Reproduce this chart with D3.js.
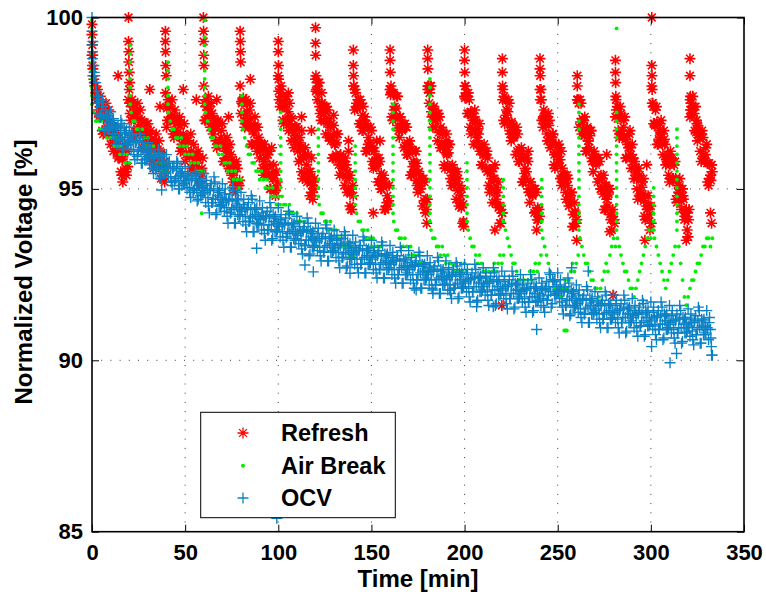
<!DOCTYPE html>
<html>
<head>
<meta charset="utf-8">
<script src="https://cdn.jsdelivr.net/npm/d3@7"></script>
<style>
  body { margin: 0; background: #ffffff; }
  text { font-family: "Liberation Sans", Arial, sans-serif; font-weight: bold; }
</style>
</head>
<body>
<script>
// readings come every 15-30 s: "_a" at t = i min, "_c" at i + 0.25, "_b" at i + 0.5
const sample_step = 1;

// Refresh, t = 0 .. 333
const refresh_a = [
  98.9, 98.2, 97.8, 97.9, 97.1, 97.4, 96.6, 97.3, 96.8, 97.3, 96.3, 96.5, 96.6, 96.7, 95.9, 96.2, 95.4, 96.1, 95.6, 96.1,
  97.9, 97.0, 97.4, 96.5, 97.3, 96.8, 97.3, 96.2, 96.6, 96.7, 96.9, 96.0, 96.4, 95.6, 96.4, 95.8, 96.4, 95.3, 95.7, 95.8,
  96.8, 97.6, 97.0, 97.6, 96.5, 96.9, 97.0, 97.1, 96.2, 96.6, 95.8, 96.5, 96.0, 96.6, 95.5, 95.8, 96.0, 96.1, 95.2, 95.6,
  98.0, 97.0, 97.3, 97.4, 97.5, 96.6, 97.0, 96.2, 96.9, 96.3, 96.9, 95.8, 96.1, 96.2, 96.3, 95.4, 95.7, 94.9, 95.6, 95.1,
  97.2, 97.6, 96.8, 97.5, 96.9, 97.5, 96.3, 96.6, 96.8, 96.8, 95.9, 96.3, 95.4, 96.1, 95.5, 96.1, 95.0, 95.3, 95.4, 95.5,
  98.3, 97.4, 97.7, 96.9, 97.6, 97.0, 97.5, 96.4, 96.7, 96.8, 96.8, 95.8, 96.2, 95.3, 96.0, 95.4, 96.0, 94.8, 95.1, 95.2,
  98.2, 97.6, 98.1, 97.0, 97.3, 97.4, 97.4, 96.5, 96.8, 95.9, 96.6, 96.0, 96.6, 95.4, 95.7, 95.8, 95.9, 94.9, 95.3, 94.4, 95.1,
  97.3, 97.5, 97.6, 97.6, 96.7, 97.0, 96.1, 96.8, 96.2, 96.7, 95.6, 95.8, 95.9, 95.9, 95.0, 95.3, 94.4, 95.1, 94.5,
  97.9, 97.1, 97.8, 97.1, 97.7, 96.5, 96.8, 96.9, 96.9, 96.0, 96.3, 95.4, 96.1, 95.5, 96.1, 94.9, 95.2, 95.3, 95.3, 94.3, 94.7,
  97.5, 98.0, 96.8, 97.1, 97.2, 97.2, 96.2, 96.6, 95.7, 96.4, 95.7, 96.3, 95.1, 95.4, 95.5, 95.5, 94.5, 94.8, 94.0,
  97.7, 97.8, 97.8, 96.8, 97.2, 96.3, 97.0, 96.4, 96.9, 95.7, 96.0, 96.1, 96.1, 95.1, 95.5, 94.6, 95.3, 94.7, 95.2, 94.0, 94.3,
  97.0, 97.6, 97.0, 97.5, 96.4, 96.6, 96.7, 96.8, 95.8, 96.1, 95.2, 95.9, 95.3, 95.8, 94.6, 94.9, 95.0, 95.0, 94.1, 94.4,
  97.9, 96.8, 97.1, 97.1, 97.2, 96.2, 96.5, 95.7, 96.3, 95.7, 96.2, 95.1, 95.3, 95.4, 95.4, 94.5, 94.8, 93.9, 94.6, 94.0,
  97.6, 97.6, 96.6, 97.0, 96.1, 96.8, 96.2, 96.7, 95.5, 95.8, 95.9, 95.9, 95.0, 95.3, 94.4, 95.1, 94.5, 95.0, 93.8, 94.1,
  97.1, 97.4, 96.5, 97.2, 96.5, 97.1, 95.9, 96.2, 96.2, 96.3, 95.3, 95.6, 94.7, 95.4, 94.8, 95.3, 94.1, 94.4, 94.5, 94.5,
  97.5, 96.9, 97.4, 96.3, 96.5, 96.6, 96.7, 95.7, 96.0, 95.2, 95.9, 95.3, 95.8, 94.6, 94.9, 95.0, 95.0, 94.1, 94.4, 93.6,
  97.1, 97.3, 97.4, 97.4, 96.4, 96.7, 95.8, 96.5, 95.8, 96.3, 95.1, 95.4, 95.5
];

// Refresh, t = 0.25 .. 332.25
const refresh_c = [
  98.6, 98.1, 97.7, 97.6, 97.15, 97.45, 97.05, 97.25, 96.7, 96.85,
  96.7, 96.7, 96.25, 96.4, 95.95, 96.25, 95.85, 96.05, 95.5, 95.65,
  97.5, 97.5, 97.05, 97.2, 96.75, 97.05, 96.75, 96.95, 96.4, 96.55,
  96.5, 96.6, 96.15, 96.3, 95.85, 96.15, 95.85, 96.05, 95.5, 95.65,
  97.35, 97.45, 97.0, 97.15, 96.7, 97.0, 96.65, 96.85, 96.3, 96.45,
  96.3, 96.4, 95.95, 96.1, 95.65, 95.95, 95.65, 95.85, 95.3, 95.45,
  97.5, 97.6, 97.15, 97.25, 96.8, 97.05, 96.75, 96.95, 96.35, 96.5,
  96.3, 96.4, 95.9, 96.05, 95.55, 95.85, 95.5, 95.7, 95.1, 95.25,
  97.55, 97.65, 97.15, 97.25, 96.8, 97.05, 96.7, 96.85, 96.3, 96.4,
  96.2, 96.3, 95.8, 95.9, 95.4, 95.7, 95.35, 95.5, 94.95, 95.05,
  97.85, 97.9, 97.4, 97.5, 97.0, 97.25, 96.9, 97.05, 96.45, 96.55,
  96.3, 96.35, 95.85, 95.95, 95.45, 95.7, 95.35, 95.5, 94.9, 95.0,
  97.85, 97.9, 97.4, 97.5, 97.0, 97.25, 96.9, 97.05, 96.4, 96.5,
  96.3, 96.35, 95.85, 95.95, 95.45, 95.7, 95.35, 95.5, 94.9, 95.0,
  94.8, 97.9, 97.35, 97.45, 96.9, 97.15, 96.8, 96.9, 96.3, 96.35,
  96.15, 96.2, 95.65, 95.75, 95.2, 95.45, 95.1, 95.2, 94.6, 94.65,
  97.75, 97.8, 97.3, 97.35, 96.85, 97.1, 96.75, 96.85, 96.25, 96.35,
  96.15, 96.15, 95.65, 95.75, 95.25, 95.45, 95.1, 95.25, 94.65, 94.7,
  97.9, 97.8, 97.25, 97.35, 96.8, 97.05, 96.65, 96.8, 96.2, 96.25,
  96.05, 96.05, 95.55, 95.6, 95.1, 95.35, 94.95, 95.1, 94.45, 94.55,
  97.65, 97.7, 97.2, 97.25, 96.75, 97.0, 96.6, 96.75, 96.1, 96.2,
  96.0, 96.0, 95.5, 95.55, 95.05, 95.3, 94.9, 95.05, 94.45, 94.5,
  94.3, 97.7, 97.15, 97.25, 96.7, 96.95, 96.55, 96.7, 96.1, 96.15,
  95.95, 95.95, 95.45, 95.5, 95.0, 95.2, 94.85, 95.0, 94.35, 94.45,
  94.2, 97.6, 97.05, 97.15, 96.6, 96.85, 96.45, 96.6, 96.0, 96.05,
  95.85, 95.85, 95.35, 95.4, 94.9, 95.1, 94.75, 94.9, 94.25, 94.35,
  94.1, 97.5, 96.95, 97.05, 96.55, 96.75, 96.4, 96.55, 95.9, 96.0,
  95.8, 95.8, 95.3, 95.4, 94.85, 95.1, 94.7, 94.85, 94.25, 94.3,
  94.1, 97.6, 97.05, 97.1, 96.6, 96.8, 96.45, 96.55, 95.95, 96.0,
  95.8, 95.8, 95.3, 95.35, 94.85, 95.05, 94.65, 94.8, 94.15, 94.25,
  94.0, 97.4, 96.85, 96.95, 96.45, 96.65, 96.3, 96.45, 95.85, 95.9,
  95.7, 95.75, 95.25, 95.3, 94.8, 95.05, 94.65, 94.8, 94.2, 94.3,
  94.1, 97.7, 97.15, 97.2, 96.65, 96.85, 96.5, 96.6, 95.95, 96.0,
  95.75, 95.75, 95.25
];

// Refresh, t = 0.5 .. 332.5
const refresh_b = [
  98.5, 98.0, 97.6, 97.3, 97.7, 96.7, 97.1, 97.5, 96.6, 97.0, 96.6, 96.1, 96.8, 96.1, 96.5, 95.5, 95.9, 96.3, 95.4, 97.6,
  97.2, 97.6, 96.7, 97.1, 97.5, 96.6, 97.0, 96.6, 96.2, 96.9, 96.3, 96.7, 95.8, 96.2, 96.6, 95.7, 96.1, 95.7, 95.3, 97.8,
  97.0, 97.4, 97.1, 96.6, 97.3, 96.6, 97.0, 96.1, 96.5, 96.9, 96.0, 96.4, 96.0, 95.6, 96.3, 95.6, 96.0, 95.1, 95.5, 95.9,
  97.0, 97.4, 97.7, 96.8, 97.2, 96.8, 96.4, 97.0, 96.3, 96.7, 95.8, 96.2, 96.5, 95.6, 96.0, 95.6, 95.1, 95.8, 95.1, 98.0,
  97.5, 97.0, 97.6, 96.9, 97.3, 96.3, 96.8, 97.1, 96.1, 96.5, 96.1, 95.6, 96.3, 95.6, 96.0, 95.0, 95.4, 95.7, 94.8, 95.2,
  97.6, 98.0, 97.0, 97.4, 97.7, 96.7, 97.1, 96.7, 96.2, 96.8, 96.1, 96.5, 95.5, 95.9, 96.2, 95.2, 95.5, 95.2, 94.7, 95.3,
  97.9, 98.1, 97.2, 97.5, 97.2, 96.6, 97.3, 96.5, 96.9, 95.9, 96.3, 96.6, 95.7, 96.0, 95.6, 95.1, 95.7, 95.0, 95.4, 94.4, 98.0,
  97.8, 97.4, 96.9, 97.5, 96.7, 97.1, 96.1, 96.5, 96.8, 95.8, 96.1, 95.7, 95.2, 95.8, 95.0, 95.4, 94.4, 94.8, 95.1,
  98.0, 97.0, 97.4, 97.7, 96.7, 97.1, 96.7, 96.2, 96.8, 96.0, 96.4, 95.4, 95.8, 96.1, 95.1, 95.5, 95.0, 94.5, 95.2, 94.4, 98.0,
  98.0, 97.1, 97.4, 97.0, 96.4, 97.1, 96.3, 96.7, 95.6, 96.0, 96.3, 95.3, 95.7, 95.2, 94.7, 95.3, 94.6, 95.0, 93.9,
  98.0, 97.2, 97.6, 96.6, 97.0, 97.3, 96.3, 96.6, 96.2, 95.7, 96.3, 95.6, 95.9, 94.9, 95.3, 95.6, 94.6, 94.9, 94.5, 94.0, 97.9,
  96.9, 97.3, 97.6, 96.6, 96.9, 96.5, 96.0, 96.6, 95.8, 96.2, 95.2, 95.6, 95.9, 94.9, 95.2, 94.8, 94.3, 94.9, 94.1, 97.9,
  97.0, 97.3, 96.9, 96.4, 97.0, 96.3, 96.6, 95.6, 96.0, 96.3, 95.3, 95.6, 95.2, 94.7, 95.3, 94.6, 94.9, 93.9, 94.3, 97.6,
  96.8, 97.5, 96.7, 97.1, 96.1, 96.4, 96.7, 95.8, 96.1, 95.7, 95.2, 95.8, 95.0, 95.4, 94.4, 94.8, 95.0, 94.1, 94.4, 94.0,
  97.3, 96.7, 97.4, 96.6, 97.0, 95.9, 96.3, 96.6, 95.6, 95.9, 95.5, 95.0, 95.6, 94.8, 95.2, 94.2, 94.5, 94.8, 93.8, 98.0,
  96.9, 97.3, 96.3, 96.7, 97.0, 96.0, 96.3, 95.9, 95.4, 96.1, 95.3, 95.7, 94.7, 95.1, 95.3, 94.4, 94.7, 94.3, 93.8, 94.4,
  97.5, 97.7, 96.7, 97.0, 96.6, 96.1, 96.7, 95.9, 96.2, 95.2, 95.3, 95.7
];

// Refresh: readings right after each refresh and stray readings, [t, value]
const refresh_extra = [
  [0, 99.8], [0, 99.5], [0.2, 99.2], [0.4, 98.9], [14, 98.3], [16.5, 95.2],
  [19.6, 100.0], [19.6, 99.3], [19.8, 99.0], [19.8, 98.7], [20, 98.4], [20.2, 98.1], [31, 97.9], [36.5, 97.4],
  [39.4, 99.6], [39.4, 99.3], [39.5, 99.0], [39.6, 98.6], [39.8, 98.3], [49, 97.9], [56, 97.6], [39, 95.2],
  [59.8, 100.0], [59.9, 99.6], [59.9, 99.3], [60, 98.9], [60.1, 98.6], [67, 97.6], [73.3, 97.1], [75.7, 95.2],
  [79.5, 99.6], [79.6, 99.3], [79.7, 99.0], [79.8, 98.7], [85, 98.2], [96.4, 96.2],
  [100, 99.3], [100, 99.0], [100.1, 98.6], [100.2, 98.2], [105.4, 97.8], [112.5, 97.1], [112.5, 96.7], [117.8, 96.7], [117.8, 95.9],
  [120, 99.7], [120, 99.25], [120.1, 98.9], [120.2, 98.3], [123.3, 97.8], [129.7, 97.15], [129.7, 96.85], [137.7, 96.4], [137.7, 96.1], [138.5, 94.5],
  [140.3, 99.05], [140.3, 98.6], [140.4, 98.3], [140.5, 98.0], [145.6, 97.4], [152.8, 96.4], [151, 94.3],
  [160, 99.05], [160, 98.75], [160.1, 98.4], [160.2, 97.9], [168.9, 96.8], [154.6, 96.4], [174.4, 95.75], [179.7, 94.0],
  [180.2, 99.05], [180.2, 98.8], [180.3, 98.5], [180.4, 98.0], [190.4, 96.6], [190.4, 96.3], [199.4, 94.05],
  [200, 99.05], [200, 98.75], [200.1, 98.4], [200.2, 98.0], [204.8, 97.1], [216.3, 95.7], [216.3, 93.8],
  [220.3, 98.8], [220.3, 98.4], [220.4, 98.0], [220.5, 97.6], [226.1, 96.8], [234.2, 96.1], [220, 91.6], [238.7, 93.8],
  [240.5, 98.8], [240.5, 98.5], [240.6, 98.3], [240.7, 97.6], [245.8, 96.4], [252, 96.1], [260.2, 93.5],
  [260.5, 98.3], [260.5, 98.0], [260.6, 97.6], [276.3, 96.0], [278, 93.75], [279.7, 91.9],
  [281, 98.75], [281, 98.4], [281.1, 98.1], [281.2, 97.7], [288.8, 96.7], [296.8, 93.5],
  [300.5, 100.0], [300.5, 98.6], [300.6, 98.3], [300.7, 97.9], [300.8, 97.5], [305, 96.9], [297.8, 95.7], [311.2, 95.9], [319, 93.5],
  [321, 98.8], [321, 98.3], [321.1, 97.6], [321.2, 97.3], [324.7, 96.9], [332.6, 95.7], [332, 94.3], [332.6, 94.0]
];

// Air Break, t = 0 .. 333
const air_break = [
  99.92, 97.23, 96.98, 96.98, 96.74, 96.98, 96.74, 96.74, 96.49, 96.74, 96.49, 96.49, 96.25, 96.49, 96.25, 96.01, 96.25, 96.01, 95.76, 96.01, 95.76,
  97.23, 96.98, 96.98, 96.74, 96.74, 96.49, 96.74, 96.49, 96.25, 96.49, 96.25, 96.01, 96.25, 96.01, 95.76, 96.01, 95.76, 95.52, 95.76, 95.52,
  97.23, 96.98, 96.74, 96.74, 96.49, 96.49, 96.25, 96.49, 96.25, 96.01, 96.25, 96.01, 95.76, 96.01, 95.76, 95.52, 95.76, 95.52, 95.27, 95.52,
  97.23, 96.98, 96.74, 96.49, 96.49, 96.25, 96.25, 96.01, 96.25, 96.01, 95.76, 95.76, 95.52, 95.76, 95.52, 95.27, 95.52, 95.27, 95.03, 95.27,
  96.74, 96.49, 96.25, 96.01, 96.01, 95.76, 95.76, 95.52, 95.52, 95.27, 95.52, 95.27, 95.03, 95.27, 95.03, 94.78, 95.03, 94.78, 94.54, 94.78, 94.54,
  94.78, 94.54, 94.54, 94.29, 94.54, 94.29, 94.29, 94.05, 94.29, 94.05, 94.05, 93.80, 94.05, 93.80, 93.80, 93.56, 93.80, 93.56, 93.56, 93.32,
  94.54, 94.29, 94.29, 94.05, 94.05, 93.80, 94.05, 93.80, 93.56, 93.80, 93.56, 93.56, 93.32, 93.56, 93.32, 93.32, 93.07, 93.32, 93.07, 93.07,
  94.29, 94.05, 94.05, 93.80, 93.80, 93.56, 93.80, 93.56, 93.32, 93.56, 93.32, 93.32, 93.07, 93.32, 93.07, 93.07, 92.83, 93.07, 92.83, 92.83,
  94.05, 93.80, 93.80, 93.56, 93.56, 93.32, 93.56, 93.32, 93.07, 93.32, 93.07, 93.07, 92.83, 93.07, 92.83, 92.83, 92.59, 92.83, 92.59, 92.83,
  93.80, 93.56, 93.56, 93.32, 93.32, 93.07, 93.32, 93.07, 92.83, 93.07, 92.83, 92.83, 92.59, 92.83, 92.59, 92.59, 92.83, 92.59, 92.83, 92.59,
  93.80, 93.56, 93.32, 93.32, 93.07, 92.83, 93.07, 92.83, 92.59, 92.59, 92.34, 92.59, 92.34, 92.59, 92.83, 92.59, 92.83, 93.07, 92.83, 93.07,
  93.80, 93.56, 93.32, 93.07, 92.83, 92.83, 92.59, 92.34, 92.34, 92.10, 92.34, 92.10, 92.34, 92.59, 92.34, 92.59, 92.83, 92.59, 92.83, 93.07,
  93.56, 93.32, 93.07, 92.83, 92.59, 92.34, 92.34, 92.10, 91.85, 92.10, 91.85, 92.10, 92.34, 92.10, 92.34, 92.59, 92.83, 92.59, 92.83, 93.07,
  93.56, 93.32, 93.07, 92.83, 92.83, 92.59, 92.34, 92.34, 92.10, 92.10, 91.85, 92.10, 92.34, 92.59, 92.83, 92.59, 93.07, 93.32, 93.56, 93.32,
  93.56, 93.32, 93.07, 92.83, 92.59, 92.59, 92.34, 92.10, 92.10, 91.85, 92.10, 92.34, 92.59, 92.83, 93.07, 93.32, 93.56, 93.80, 93.56, 93.80,
  93.56, 93.32, 93.07, 92.83, 92.59, 92.34, 92.10, 92.34, 92.59, 92.83, 93.07, 93.32,
  93.80, 93.32, 92.83, 92.34, 91.85, 91.61, 91.85, 92.10, 92.34, 92.34, 92.59, 92.83, 92.83, 93.07, 93.32, 93.32, 93.56, 93.56, 93.32, 93.56
];

// Air Break: fast drops at each cycle, [t, readings passed on the way down]
const air_columns = [
  [0, [99.92, 99.68, 99.43, 99.19, 98.94, 98.70, 98.45, 98.21, 97.96, 97.72, 97.47]],
  [20.5, [99.19, 98.94, 98.70, 98.45, 98.21, 97.96, 97.72, 97.47]],
  [40.8, [98.70, 98.45, 98.21, 97.96, 97.72, 97.47]],
  [60.5, [99.92, 99.43, 99.19, 98.94, 98.70, 98.45, 98.21, 97.96, 97.72, 97.47]],
  [80.5, [97.72, 97.47, 97.23, 96.98]],
  [101.3, [97.23, 96.98, 96.74, 96.49, 96.25, 96.01, 95.76, 95.52, 95.27, 95.03]],
  [121.5, [96.74, 96.49, 96.25, 96.01, 95.76, 95.52, 95.27, 95.03, 94.78]],
  [141.3, [96.25, 96.01, 95.76, 95.52, 95.27, 95.03, 94.78, 94.54]],
  [161.6, [97.47, 97.23, 96.98, 96.74, 96.49, 96.25, 96.01, 95.76, 95.52, 95.27, 95.03, 94.78, 94.54, 94.29]],
  [181.4, [98.21, 97.96, 97.72, 97.47, 97.23, 96.98, 96.74, 96.49, 96.25, 96.01, 95.76, 95.52, 95.27, 95.03, 94.78, 94.54, 94.29, 94.05]],
  [201.3, [95.76, 95.52, 95.27, 95.03, 94.78, 94.54, 94.29, 94.05]],
  [220.8, [95.27, 95.03, 94.78, 94.54, 94.29, 94.05]],
  [241.4, [95.27, 95.03, 94.78, 94.54, 94.29, 94.05, 93.80]],
  [261.4, [97.47, 97.23, 96.98, 96.74, 96.49, 96.25, 96.01, 95.76, 95.52, 95.27, 95.03, 94.78, 94.54, 94.29, 94.05, 93.80]],
  [281.6, [99.68, 97.23, 96.98, 96.74, 96.49, 96.25, 96.01, 95.76, 95.52, 95.27, 95.03, 94.78, 94.54, 94.29, 94.05, 93.80]],
  [301.5, [95.03, 94.78, 94.54, 94.29, 94.05, 93.80]],
  [314, [96.74, 96.49, 96.25, 96.01, 95.76, 95.52, 95.27, 95.03, 94.78, 94.54, 94.29, 94.05]]
];

const air_extra = [[58.9, 94.29], [253.5, 90.87], [254.2, 90.87], [254.9, 90.87]];

// OCV, t = 0 .. 333
const ocv_a = [
  100.0, 98.6, 98.1, 97.2, 97.6, 97.15, 97.5, 96.7, 97.1, 96.75,
  97.25, 96.6, 96.85, 96.3, 96.85, 96.5, 96.9, 96.2, 96.65, 96.3,
  96.8, 96.15, 96.4, 95.85, 96.4, 96.1, 96.5, 95.75, 96.2, 95.85,
  96.35, 95.7, 96.0, 95.45, 96.0, 95.65, 96.05, 95.35, 95.8, 95.45,
  96.0, 95.35, 95.6, 95.1, 95.65, 95.3, 95.75, 95.0, 95.45, 95.15,
  95.65, 95.0, 95.3, 94.75, 95.35, 95.0, 95.4, 94.7, 95.15, 94.85,
  95.45, 94.6, 95.0, 94.3, 95.15, 94.7, 95.2, 94.3, 94.9, 94.5,
  95.15, 94.35, 94.7, 94.0, 94.85, 94.4, 94.95, 94.0, 94.65, 94.2,
  94.9, 94.05, 94.45, 93.75, 94.6, 94.15, 94.7, 93.75, 94.4, 93.95,
  94.65, 93.8, 94.2, 93.5, 94.35, 93.95, 94.45, 93.55, 94.15, 93.75,
  94.45, 93.6, 94.0, 93.3, 94.15, 93.7, 94.25, 93.3, 93.95, 93.5,
  94.2, 93.4, 93.75, 93.1, 93.9, 93.5, 94.0, 93.1, 93.7, 93.3,
  94.0, 93.2, 93.55, 92.9, 93.7, 93.3, 93.85, 92.9, 93.55, 93.15,
  93.8, 93.0, 93.4, 92.7, 93.55, 93.1, 93.65, 92.75, 93.35, 92.95,
  93.65, 92.8, 93.2, 92.55, 93.35, 92.95, 93.5, 92.55, 93.2, 92.8,
  93.5, 92.65, 93.05, 92.4, 93.2, 92.8, 93.35, 92.4, 93.05, 92.65,
  93.35, 92.5, 92.9, 92.25, 93.05, 92.65, 93.2, 92.25, 92.9, 92.5,
  93.2, 92.35, 92.75, 92.1, 92.9, 92.5, 93.05, 92.1, 92.75, 92.35,
  93.05, 92.2, 92.6, 91.95, 92.75, 92.35, 92.9, 91.95, 92.6, 92.2,
  92.9, 92.05, 92.45, 91.8, 92.65, 92.2, 92.75, 91.85, 92.5, 92.1,
  92.8, 92.0, 92.35, 91.7, 92.55, 92.15, 92.65, 91.75, 92.4, 92.0,
  92.7, 91.9, 92.25, 91.6, 92.45, 92.05, 92.55, 91.65, 92.3, 91.9,
  92.6, 91.8, 92.15, 91.5, 92.35, 91.95, 92.45, 91.55, 92.2, 91.8,
  92.5, 91.7, 92.05, 91.4, 92.25, 91.85, 92.35, 91.45, 92.1, 91.7,
  92.4, 91.6, 92.05, 91.4, 92.3, 91.9, 92.5, 91.65, 92.3, 91.9,
  92.55, 91.7, 92.05, 91.35, 92.15, 91.75, 92.25, 91.35, 91.95, 91.55,
  92.2, 91.4, 91.75, 91.1, 91.9, 91.5, 92.05, 91.1, 91.75, 91.35,
  92.0, 91.2, 91.6, 90.95, 91.75, 91.35, 91.9, 90.95, 91.6, 91.2,
  91.9, 91.1, 91.45, 90.8, 91.65, 91.25, 91.75, 90.85, 91.5, 91.1,
  91.8, 90.95, 91.35, 90.7, 91.55, 91.1, 91.65, 90.75, 91.4, 91.0,
  91.7, 90.9, 91.25, 90.6, 91.45, 91.05, 91.55, 90.65, 91.3, 90.9,
  91.6, 90.8, 91.15, 90.5, 91.35, 90.95, 91.45, 90.55, 91.2, 90.8,
  91.5, 90.7, 91.1, 90.45, 91.3, 90.9, 91.45, 90.5, 91.15, 90.75,
  91.45, 90.6, 90.9, 90.15
];

// OCV, t = 0.25 .. 332.25
const ocv_c = [
  99.0, 98.4, 97.85, 97.7, 97.15, 97.4, 97.1, 97.3, 96.75, 96.95,
  96.85, 97.0, 96.6, 96.8, 96.4, 96.75, 96.5, 96.8, 96.3, 96.5,
  96.4, 96.55, 96.15, 96.35, 95.95, 96.35, 96.1, 96.35, 95.85, 96.05,
  95.95, 96.1, 95.75, 95.95, 95.55, 95.9, 95.65, 95.95, 95.45, 95.65,
  95.6, 95.75, 95.35, 95.6, 95.2, 95.55, 95.35, 95.6, 95.1, 95.35,
  95.25, 95.4, 95.05, 95.25, 94.9, 95.25, 95.0, 95.3, 94.8, 95.05,
  94.95, 95.1, 94.75, 94.95, 94.6, 94.95, 94.7, 95.0, 94.5, 94.75,
  94.65, 94.85, 94.45, 94.65, 94.3, 94.65, 94.45, 94.7, 94.25, 94.45,
  94.4, 94.55, 94.2, 94.4, 94.05, 94.4, 94.2, 94.45, 94.0, 94.2,
  94.15, 94.3, 93.95, 94.15, 93.8, 94.2, 93.95, 94.25, 93.75, 94.0,
  93.95, 94.1, 93.75, 93.95, 93.6, 93.95, 93.75, 94.0, 93.55, 93.75,
  93.7, 93.9, 93.5, 93.75, 93.35, 93.75, 93.5, 93.8, 93.3, 93.55,
  93.5, 93.7, 93.3, 93.55, 93.15, 93.55, 93.35, 93.6, 93.15, 93.4,
  93.3, 93.5, 93.15, 93.35, 93.0, 93.35, 93.15, 93.45, 92.95, 93.2,
  93.15, 93.3, 92.95, 93.2, 92.8, 93.2, 93.0, 93.25, 92.8, 93.05,
  93.0, 93.15, 92.8, 93.05, 92.65, 93.05, 92.85, 93.1, 92.65, 92.9,
  92.85, 93.0, 92.65, 92.9, 92.5, 92.9, 92.7, 92.95, 92.5, 92.75,
  92.7, 92.85, 92.5, 92.75, 92.35, 92.75, 92.55, 92.8, 92.35, 92.6,
  92.55, 92.7, 92.35, 92.6, 92.2, 92.6, 92.4, 92.65, 92.2, 92.45,
  92.4, 92.55, 92.2, 92.45, 92.1, 92.45, 92.25, 92.55, 92.1, 92.35,
  92.3, 92.5, 92.1, 92.35, 92.0, 92.4, 92.15, 92.45, 92.0, 92.25,
  92.2, 92.4, 92.0, 92.25, 91.9, 92.3, 92.05, 92.35, 91.9, 92.15,
  92.1, 92.3, 91.9, 92.15, 91.8, 92.2, 91.95, 92.25, 91.8, 92.05,
  92.0, 92.2, 91.8, 92.05, 91.7, 92.1, 91.85, 92.15, 91.7, 91.95,
  91.9, 92.1, 91.8, 92.05, 91.75, 92.15, 92.0, 92.35, 91.9, 92.15,
  92.05, 92.2, 91.8, 92.0, 91.6, 92.0, 91.75, 92.05, 91.55, 91.8,
  91.7, 91.9, 91.5, 91.75, 91.35, 91.75, 91.55, 91.8, 91.35, 91.6,
  91.5, 91.7, 91.35, 91.6, 91.2, 91.6, 91.4, 91.65, 91.2, 91.45,
  91.4, 91.6, 91.2, 91.45, 91.1, 91.5, 91.25, 91.55, 91.1, 91.35,
  91.3, 91.45, 91.1, 91.35, 91.0, 91.35, 91.15, 91.45, 91.0, 91.25,
  91.2, 91.4, 91.0, 91.25, 90.9, 91.3, 91.05, 91.35, 90.9, 91.15,
  91.1, 91.3, 90.9, 91.15, 90.8, 91.2, 90.95, 91.25, 90.8, 91.05,
  91.0, 91.2, 90.85, 91.1, 90.75, 91.15, 90.95, 91.2, 90.75, 91.0,
  90.95, 91.1, 90.65
];

// OCV, t = 0.5 .. 332.5
const ocv_b = [
  99.3, 98.3, 97.5, 97.6, 97.1, 97.6, 96.7, 97.05, 97.15, 96.8,
  96.85, 97.05, 96.45, 96.8, 96.45, 97.0, 96.15, 96.6, 96.7, 96.35,
  96.4, 96.6, 96.0, 96.35, 96.0, 96.6, 95.75, 96.15, 96.25, 95.9,
  95.95, 96.15, 95.6, 95.95, 95.6, 96.15, 95.3, 95.75, 95.85, 95.5,
  95.6, 95.8, 95.2, 95.6, 95.25, 95.8, 95.0, 95.4, 95.5, 95.2,
  95.25, 95.45, 94.9, 95.25, 94.95, 95.5, 94.65, 95.1, 95.2, 94.9,
  94.9, 95.25, 94.5, 95.0, 94.6, 95.35, 94.25, 94.8, 94.95, 94.55,
  94.6, 95.0, 94.2, 94.7, 94.3, 95.05, 94.0, 94.5, 94.7, 94.25,
  94.35, 94.7, 93.95, 94.45, 94.05, 94.8, 93.75, 94.25, 94.45, 94.0,
  94.1, 94.45, 93.7, 94.2, 93.8, 94.6, 93.5, 94.05, 94.2, 93.8,
  93.9, 94.25, 93.5, 94.0, 93.6, 94.35, 93.3, 93.8, 94.0, 93.55,
  93.65, 94.05, 93.25, 93.8, 93.35, 94.15, 93.05, 93.6, 93.75, 93.35,
  93.45, 93.85, 93.05, 93.6, 93.15, 93.95, 92.9, 93.4, 93.6, 93.2,
  93.25, 93.65, 92.9, 93.4, 93.0, 93.75, 92.7, 93.25, 93.4, 93.0,
  93.1, 93.45, 92.7, 93.25, 92.8, 93.6, 92.55, 93.05, 93.25, 92.85,
  92.95, 93.3, 92.55, 93.1, 92.65, 93.45, 92.4, 92.9, 93.1, 92.7,
  92.8, 93.15, 92.4, 92.95, 92.5, 93.3, 92.25, 92.75, 92.95, 92.55,
  92.65, 93.0, 92.25, 92.8, 92.35, 93.15, 92.1, 92.6, 92.8, 92.4,
  92.5, 92.85, 92.1, 92.65, 92.2, 93.0, 91.95, 92.45, 92.65, 92.25,
  92.35, 92.7, 91.95, 92.5, 92.1, 92.85, 91.8, 92.35, 92.55, 92.15,
  92.25, 92.65, 91.85, 92.4, 92.0, 92.8, 91.7, 92.25, 92.45, 92.05,
  92.15, 92.55, 91.75, 92.3, 91.9, 92.7, 91.6, 92.15, 92.35, 91.95,
  92.05, 92.45, 91.65, 92.2, 91.8, 92.6, 91.5, 92.05, 92.25, 91.85,
  91.95, 92.35, 91.55, 92.1, 91.7, 92.5, 91.4, 91.95, 92.15, 91.75,
  91.85, 92.25, 91.55, 92.1, 91.75, 92.55, 91.55, 92.15, 92.35, 91.95,
  92.0, 92.35, 91.55, 92.05, 91.6, 92.4, 91.3, 91.85, 92.0, 91.6,
  91.65, 92.05, 91.25, 91.8, 91.35, 92.15, 91.1, 91.6, 91.8, 91.4,
  91.45, 91.85, 91.1, 91.65, 91.2, 92.0, 90.95, 91.45, 91.65, 91.25,
  91.35, 91.75, 90.95, 91.5, 91.1, 91.9, 90.8, 91.35, 91.55, 91.15,
  91.25, 91.6, 90.85, 91.4, 91.0, 91.75, 90.7, 91.25, 91.45, 91.05,
  91.15, 91.55, 90.75, 91.3, 90.9, 91.7, 90.6, 91.15, 91.35, 90.95,
  91.05, 91.45, 90.65, 91.2, 90.8, 91.6, 90.5, 91.05, 91.25, 90.85,
  90.95, 91.35, 90.6, 91.15, 90.75, 91.55, 90.5, 91.0, 91.2, 90.8,
  90.9, 91.25, 90.4
];

const ocv_extra = [
  [0, 99.6], [0, 99.2], [0.3, 98.8], [0.5, 98.3], [37.4, 94.97], [88.4, 93.27], [99.2, 85.39],
  [114.3, 92.78], [118.8, 92.58], [138.5, 92.54], [174, 92.05], [183, 92.05], [192, 92.05],
  [206.5, 91.56], [215.4, 91.56], [238.7, 90.9], [257.5, 92.7], [266.4, 92.6],
  [300.4, 90.4], [310.3, 89.93], [313.8, 90.2], [332.6, 90.15]
];

const x_ticks = [0, 50, 100, 150, 200, 250, 300, 350];
const y_ticks = [85, 90, 95, 100];
const legend_labels = ["Refresh", "Air Break", "OCV"];

// ---- layout
const svg_w = 766, svg_h = 595;
const left_marg = 92, right_x = 744, top_y = 17.5, bottom_y = 531.7;

const svg = d3.select("body").append("svg")
  .attr("width", svg_w)
  .attr("height", svg_h)
  .style("display", "block");

const x_scale = d3.scaleLinear().domain([0, 350]).range([left_marg, right_x]);
const y_scale = d3.scaleLinear().domain([85, 100]).range([bottom_y, top_y]);

function to_points(values, t0) {
  return values.map((v, i) => [t0 + i * sample_step, v]);
}

const refresh_pts = to_points(refresh_a, 0).concat(
  to_points(refresh_c, 0.25), to_points(refresh_b, 0.5), refresh_extra);
const ocv_pts = to_points(ocv_a, 0).concat(
  to_points(ocv_c, 0.25), to_points(ocv_b, 0.5), ocv_extra);
let air_pts = to_points(air_break, 0).concat(air_extra);
for (const [t, vals] of air_columns) {
  vals.forEach(v => air_pts.push([t, v]));
}

// ---- grid (dotted, under the data)
const grid = svg.append("g")
  .attr("stroke", "#3a3a3a")
  .attr("stroke-width", 1)
  .attr("stroke-dasharray", "1,8.2");
grid.selectAll(".gx")
  .data(x_ticks.slice(1, -1))
  .join("line")
  .attr("x1", d => x_scale(d)).attr("x2", d => x_scale(d))
  .attr("y1", bottom_y).attr("y2", top_y);
grid.selectAll(".gy")
  .data(y_ticks.slice(1, -1))
  .join("line")
  .attr("x1", left_marg).attr("x2", right_x)
  .attr("y1", d => y_scale(d)).attr("y2", d => y_scale(d));

// ---- markers
const star_path = "M-5.5,0H5.5M0,-5.5V5.5M-3.9,-3.9L3.9,3.9M-3.9,3.9L3.9,-3.9";
const plus_path = "M-5.5,0H5.5M0,-5.5V5.5";
const red = "#ff0000", green = "#00ee00", blue = "#0b82c6";

svg.append("g")
  .selectAll("path")
  .data(refresh_pts)
  .join("path")
  .attr("d", star_path)
  .attr("transform", d => "translate(" + x_scale(d[0]) + "," + y_scale(d[1]) + ")")
  .attr("fill", "none")
  .attr("stroke", red)
  .attr("stroke-width", 1.6);

svg.append("g")
  .selectAll("circle")
  .data(air_pts)
  .join("circle")
  .attr("cx", d => x_scale(d[0]))
  .attr("cy", d => y_scale(d[1]))
  .attr("r", 1.9)
  .attr("fill", green);

svg.append("g")
  .selectAll("path")
  .data(ocv_pts)
  .join("path")
  .attr("d", plus_path)
  .attr("transform", d => "translate(" + x_scale(d[0]) + "," + y_scale(d[1]) + ")")
  .attr("fill", "none")
  .attr("stroke", blue)
  .attr("stroke-width", 1.4);

// ---- axes, ticks inside on all four sides
function style_axis(g) {
  g.attr("font-family", "Liberation Sans, Arial, sans-serif")
    .attr("font-size", 22)
    .attr("font-weight", "bold");
  g.select(".domain").remove();
  g.selectAll(".tick line").attr("stroke", "#000").attr("stroke-width", 1);
  g.selectAll(".tick text").attr("fill", "#000");
}

svg.append("g")
  .attr("transform", "translate(0," + bottom_y + ")")
  .call(d3.axisBottom(x_scale).tickValues(x_ticks).tickSizeInner(-7).tickSizeOuter(0).tickPadding(13))
  .call(style_axis);

svg.append("g")
  .attr("transform", "translate(" + left_marg + ",0)")
  .call(d3.axisLeft(y_scale).tickValues(y_ticks).tickSizeInner(-7).tickSizeOuter(0).tickPadding(9))
  .call(style_axis);

svg.append("g")
  .attr("transform", "translate(0," + top_y + ")")
  .call(d3.axisTop(x_scale).tickValues(x_ticks).tickSizeInner(-7).tickSizeOuter(0).tickFormat(""))
  .call(style_axis);

svg.append("g")
  .attr("transform", "translate(" + right_x + ",0)")
  .call(d3.axisRight(y_scale).tickValues(y_ticks).tickSizeInner(-7).tickSizeOuter(0).tickFormat(""))
  .call(style_axis);

svg.append("rect")
  .attr("x", left_marg).attr("y", top_y)
  .attr("width", right_x - left_marg).attr("height", bottom_y - top_y)
  .attr("fill", "none")
  .attr("stroke", "#000")
  .attr("stroke-width", 1.6);

// ---- axis labels
svg.append("text")
  .text("Time [min]")
  .attr("x", (left_marg + right_x) / 2)
  .attr("y", 587)
  .attr("text-anchor", "middle")
  .attr("font-size", 24);

svg.append("text")
  .text("Normalized Voltage [%]")
  .attr("text-anchor", "middle")
  .attr("font-size", 24)
  .attr("transform", "translate(32," + 272 + ")rotate(-90)");

// ---- legend
const legend = svg.append("g").attr("transform", "translate(200.7,412.3)");
legend.append("rect")
  .attr("width", 194.6).attr("height", 105.4)
  .attr("fill", "#fff")
  .attr("stroke", "#000")
  .attr("stroke-width", 1);

const row_y = [20.7, 53.4, 85.7];
legend_labels.forEach((label, i) => {
  const row = legend.append("g").attr("transform", "translate(42.3," + row_y[i] + ")");
  if (i == 0) {
    row.append("path").attr("d", star_path).attr("fill", "none").attr("stroke", red).attr("stroke-width", 1.3);
  } else if (i == 1) {
    row.append("circle").attr("r", 2).attr("fill", green);
  } else {
    row.append("path").attr("d", plus_path).attr("fill", "none").attr("stroke", blue).attr("stroke-width", 1.3);
  }
  legend.append("text")
    .text(label)
    .attr("x", 80.3)
    .attr("y", row_y[i] + 8.3)
    .attr("font-size", 23.5);
});
</script>
</body>
</html>
